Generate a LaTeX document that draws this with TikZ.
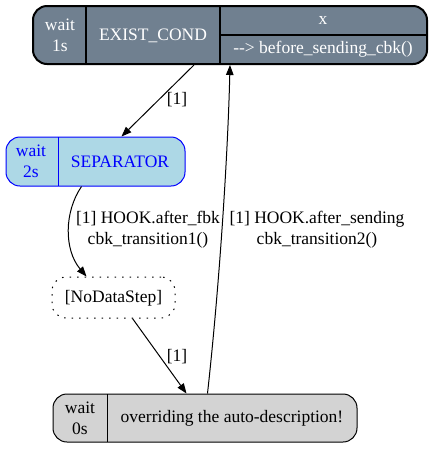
\documentclass[tikz,border=0pt]{standalone}
\usepackage{fontspec}
\setmainfont{Liberation Serif}[Ligatures=NoCommon]
\newfontfamily\gvfont{Liberation Serif}[Ligatures=NoCommon]
\usetikzlibrary{arrows.meta,calc}
\definecolor{slate}{HTML}{708090}
\definecolor{lblue}{HTML}{ADD8E6}
\definecolor{lgray}{HTML}{D3D3D3}
\begin{document}
\begin{tikzpicture}[x=1pt,y=-1pt, font=\gvfont\fontsize{17.5}{21}\selectfont,
  box/.style={draw, rounded corners=14pt, inner sep=0pt},
  txt/.style={align=center, inner sep=0pt},
  conn/.style={-{Triangle[length=10pt,width=7.5pt]}, line width=1pt},
  lbl/.style={align=center, inner sep=0pt}]
\useasboundingbox (0,0) rectangle (433,451);

% top node
\node[box, fill=slate, line width=2pt, minimum width=394pt, minimum height=58pt] (top) at (230,35) {};
\draw[line width=2pt] (86,6) -- (86,64) (220,6) -- (220,64) (220,35) -- (426,35);
\node[txt, text=white] (w1) at (60,35) {wait\\1s};
\node[txt, text=white] (ec) at (153,36) {EXIST\_COND};
\node[txt, text=white] (x) at (323,20) {x};
\node[txt, text=white] (cb) at (323,49) {-{}-> before\_sending\_cbk()};

% separator
\node[box, fill=lblue, draw=blue, line width=1pt, minimum width=179pt, minimum height=49pt] (sep) at (95.5,161.5) {};
\draw[blue, line width=1pt] (58,137) -- (58,186);
\node[txt, text=blue] (w2) at (31,161.5) {wait\\2s};
\node[txt, text=blue] (sp) at (120,161.5) {SEPARATOR};

% no data step
\node[box, dash pattern=on 1.5pt off 6pt, line width=1pt, minimum width=123pt, minimum height=41pt] (nd) at (113.5,297.5) {};
\node[txt] (ndt) at (113.5,298) {[NoDataStep]};

% bottom node
\node[box, fill=lgray, line width=1pt, minimum width=304pt, minimum height=48pt] (bot) at (205,418) {};
\draw[line width=1pt] (107,394) -- (107,442);
\node[txt] (w0) at (80,418) {wait\\0s};
\node[txt] (ov) at (232,418) {overriding the auto-description!};

% edges
\draw[conn] ($(top.south west)+(162,0)$) -- ($(sep.north west)+(116,0)$);
\node[lbl] (l1) at (177,100) {[1]};

\draw[conn] ($(sep.south west)+(76,0)$) .. controls (64,212) and (64,250) .. ($(nd.north west)+(35,0)$);
\node[lbl] (l2) at (148,230) {[1] HOOK.after\_fbk\\cbk\_transition1()};

\draw[conn] ($(nd.south west)+(81,0)$) -- ($(bot.north west)+(134,0)$);
\node[lbl] (l3) at (177,357) {[1]};

\draw[conn] ($(bot.north west)+(155,0)$) .. controls (220,280) and (228,150) .. ($(top.south west)+(198,0)$);
\node[lbl] (l4) at (317,230) {[1] HOOK.after\_sending\\cbk\_transition2()};
\end{tikzpicture}
\end{document}
